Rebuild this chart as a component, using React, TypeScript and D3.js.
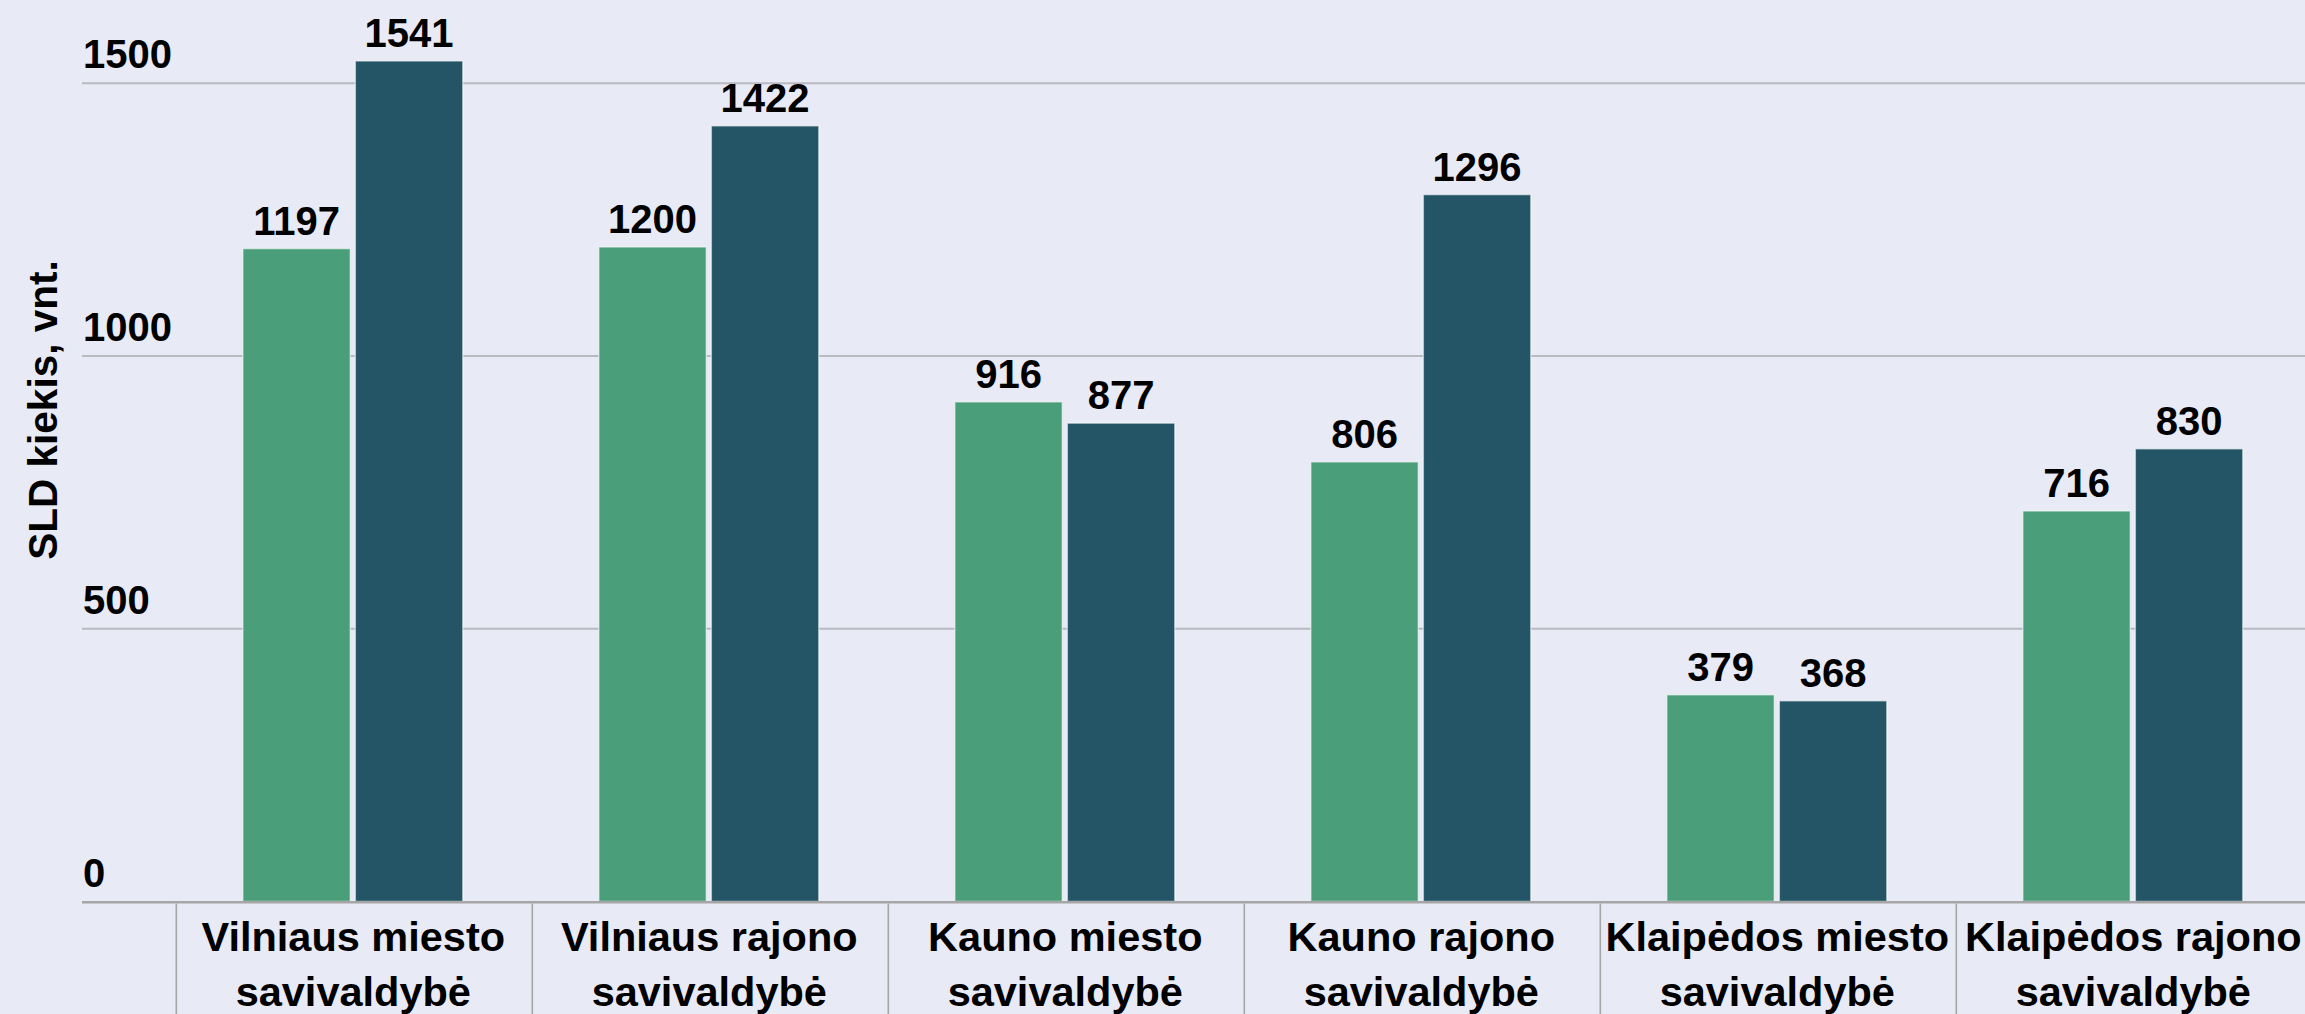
import React from "react";
import * as d3 from "d3";

const categories: string[][] = [
  ["Vilniaus miesto", "savivaldybė"],
  ["Vilniaus rajono", "savivaldybė"],
  ["Kauno miesto", "savivaldybė"],
  ["Kauno rajono", "savivaldybė"],
  ["Klaipėdos miesto", "savivaldybė"],
  ["Klaipėdos rajono", "savivaldybė"],
];
const seriesA: number[] = [1197, 1200, 916, 806, 379, 716];
const seriesB: number[] = [1541, 1422, 877, 1296, 368, 830];
const seriesNames = ["A", "B"];
const seriesColors = ["#4A9E7A", "#245566"];
const yTicks: number[] = [0, 500, 1000, 1500];
const yTitle = "SLD kiekis, vnt.";

const W = 2305;
const H = 1014;
const FONT = "'Liberation Sans', Arial, sans-serif";

export default function App() {
  const keys = categories.map((c) => c.join(" "));
  const x = d3.scaleBand<string>().domain(keys).range([176.3, 176.3 + 356 * 6]).padding(0);
  const inner = d3
    .scaleBand<string>()
    .domain(seriesNames)
    .range([66.5, 286.5])
    .paddingInner(0.0444)
    .paddingOuter(0);
  const y = d3.scaleLinear().domain([0, 1500]).range([901.5, 83.3]);
  const series = [seriesA, seriesB];
  const plotLeft = 82;

  return (
    <div style={{ position: "fixed", left: 0, top: 0, width: W, height: H, background: "#E8EAF6" }}>
      <svg width={W} height={H} style={{ display: "block" }} fontFamily={FONT}>
        <rect x={0} y={0} width={W} height={H} fill="#E8EAF6" />
        {yTicks.filter((t) => t !== 0).map((t) => (
          <line key={"g" + t} x1={plotLeft} x2={W} y1={y(t)} y2={y(t)} stroke="#B9B9C0" strokeWidth={2} />
        ))}
        {yTicks.map((t) => (
          <text key={"t" + t} x={83} y={y(t) - 15} fontSize={40} fontWeight={700} fill="#000">
            {t}
          </text>
        ))}
        <text
          transform={`translate(57,410) rotate(-90)`}
          textAnchor="middle"
          fontSize={40.5}
          fontWeight={700}
          fill="#000"
        >
          {yTitle}
        </text>
        {series.map((vals, si) =>
          vals.map((v, ci) => {
            const bx = (x(keys[ci]) as number) + (inner(seriesNames[si]) as number);
            const bw = inner.bandwidth();
            return (
              <g key={`b${si}-${ci}`}>
                <rect
                  x={bx}
                  y={y(v)}
                  width={bw}
                  height={y(0) - y(v)}
                  fill={seriesColors[si]}
                  stroke="#ffffff"
                  strokeOpacity={0.55}
                  strokeWidth={1.5}
                />
                <text
                  x={bx + bw / 2}
                  y={y(v) - 14}
                  textAnchor="middle"
                  fontSize={40}
                  fontWeight={700}
                  fill="#000"
                >
                  {v}
                </text>
              </g>
            );
          })
        )}
        <line x1={plotLeft} x2={W} y1={y(0) + 0.8} y2={y(0) + 0.8} stroke="#A6A6A6" strokeWidth={2.6} />
        {keys.map((k, i) => {
          const x0 = x(k) as number;
          return (
            <line key={"s" + i} x1={x0} x2={x0} y1={y(0) + 2} y2={H} stroke="#A6A6A6" strokeWidth={1.6} />
          );
        })}
        {categories.map((lines, i) => {
          const cx = (x(keys[i]) as number) + x.bandwidth() / 2 - 1;
          return (
            <text key={"c" + i} textAnchor="middle" fontSize={41.5} fontWeight={700} fill="#000">
              {lines.map((ln, li) => (
                <tspan key={li} x={cx} y={951 + li * 55}>
                  {ln}
                </tspan>
              ))}
            </text>
          );
        })}
      </svg>
    </div>
  );
}
